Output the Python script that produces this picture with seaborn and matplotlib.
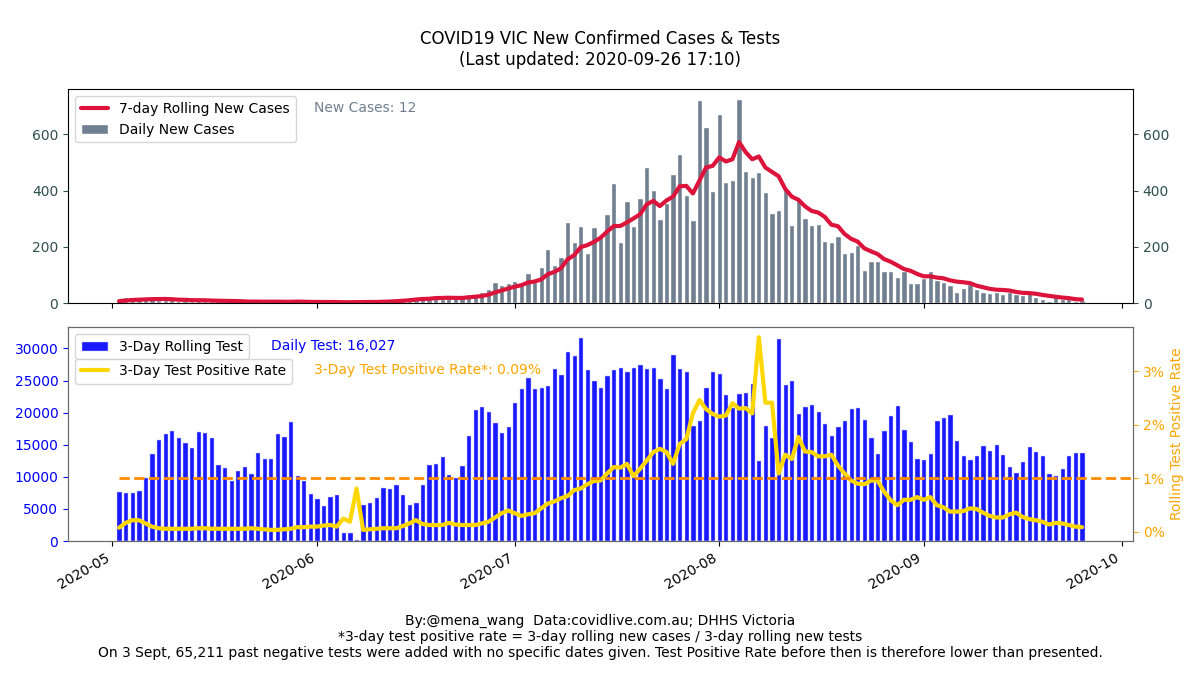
import matplotlib
matplotlib.use("Agg")
import matplotlib.pyplot as plt
import matplotlib.dates as mdates
from matplotlib.ticker import FuncFormatter
import seaborn as sns
import pandas as pd

# ---- data (one value per day, from 2020-05-02) ----
START_DATE = "2020-05-02"

daily_cases = [
    9, 21, 17, 14, 15, 13, 11, 12, 13, 7, 10, 7, 12, 8, 7, 7, 4, 6, 5, 4,
    3, 8, 4, 5, 6, 2, 4, 8, 3, 1, 4, 3, 5, 2, 4, 2, 4, 9, 2, 4,
    8, 8, 12, 14, 21, 21, 18, 13, 25, 16, 19, 17, 20, 33, 30, 41, 49, 75, 64, 73,
    77, 66, 108, 74, 127, 191, 134, 165, 288, 216, 273, 177, 270, 238, 317, 428, 217, 363, 275, 374,
    484, 403, 300, 357, 459, 532, 384, 295, 723, 627, 397, 671, 429, 439, 725, 471, 450, 466, 394, 322,
    331, 410, 278, 372, 303, 279, 282, 222, 216, 240, 179, 182, 208, 116, 148, 149, 113, 113, 94, 114,
    73, 70, 90, 113, 81, 76, 63, 41, 55, 68, 50, 41, 37, 41, 34, 41, 34, 27, 35, 20,
    13, 9, 20, 13, 13, 9, 12,
]

rolling_cases_7d = [
    7.0, 9.0, 11.0, 12.0, 13.0, 14.0, 14.3, 14.7, 13.6, 12.1, 11.6, 10.4, 10.3, 9.9, 9.1, 8.3, 7.9, 7.3, 7.0, 5.9,
    5.1, 5.3, 4.9, 5.0, 5.0, 4.6, 4.6, 5.3, 4.6, 4.1, 4.0, 3.6, 4.0, 3.7, 3.1, 3.0, 3.4, 4.1, 4.0, 3.9,
    4.7, 5.3, 6.7, 8.1, 9.9, 12.6, 14.6, 15.3, 17.7, 18.3, 19.0, 18.4, 18.3, 20.4, 22.9, 25.1, 29.9, 37.9, 44.6, 52.1,
    58.4, 63.6, 73.1, 76.7, 84.1, 102.3, 111.0, 123.6, 155.3, 170.7, 199.1, 206.3, 217.6, 232.4, 254.1, 274.1, 274.3, 287.1, 301.1, 316.0,
    351.1, 363.4, 345.1, 365.1, 378.9, 415.6, 417.0, 390.0, 435.7, 482.4, 488.1, 518.4, 503.7, 511.6, 573.0, 537.0, 511.7, 521.6, 482.0, 466.7,
    451.3, 406.3, 378.7, 367.6, 344.3, 327.9, 322.1, 306.6, 278.9, 273.4, 245.9, 228.6, 218.4, 194.7, 184.1, 174.6, 156.4, 147.0, 134.4, 121.0,
    114.9, 103.7, 95.3, 95.3, 90.7, 88.1, 80.9, 76.3, 74.1, 71.0, 62.0, 56.3, 50.7, 47.6, 46.6, 44.6, 39.7, 36.4, 35.6, 33.1,
    29.1, 25.6, 22.6, 19.6, 17.6, 13.9, 12.7,
]

rolling_tests_3d = [
    7770, 7620, 7620, 7870, 10000, 13780, 15950, 16780, 17350, 16160, 15490, 14710, 17090, 16940, 16270, 11970, 11500, 9580, 11140, 11660,
    10520, 13830, 12950, 12950, 16890, 16370, 18650, 10260, 9580, 7460, 6630, 5650, 6990, 7300, 1450, 1350, 260, 5800, 6010, 6890,
    8440, 8240, 8860, 7360, 5800, 6060, 8860, 12020, 12230, 13210, 10410, 10000, 11810, 16520, 20560, 20980, 20200, 18490, 16990, 17870,
    21600, 23880, 25490, 23880, 23930, 24240, 26880, 26000, 29680, 29010, 31750, 26830, 25120, 23980, 25900, 26730, 27040, 26420, 27140, 27610,
    26990, 27140, 25330, 23880, 29160, 26990, 26420, 18130, 18910, 23930, 26420, 26210, 22840, 20880, 23000, 23260, 24660, 12690, 18130, 16210,
    31650, 24400, 25020, 20000, 21080, 21290, 20200, 18340, 16470, 17980, 18910, 20670, 20820, 18960, 16270, 13780, 17350, 19580, 21140, 17410,
    15640, 13000, 12850, 13780, 18800, 19370, 19740, 15700, 13360, 12740, 13360, 14920, 14250, 15070, 13620, 11760, 10720, 12540, 14870, 14090,
    13470, 10520, 10260, 11340, 13470, 13830, 13930,
]

# 3-day test positive rate, in percent
positive_rate_3d = [
    0.08, 0.17, 0.22, 0.22, 0.16, 0.10, 0.07, 0.06, 0.06, 0.06, 0.06, 0.06, 0.07, 0.07, 0.06, 0.06, 0.06, 0.06, 0.06, 0.06,
    0.07, 0.06, 0.05, 0.04, 0.04, 0.05, 0.06, 0.09, 0.09, 0.10, 0.10, 0.12, 0.13, 0.10, 0.25, 0.19, 0.81, 0.04, 0.05, 0.06,
    0.07, 0.07, 0.07, 0.11, 0.16, 0.22, 0.15, 0.13, 0.13, 0.13, 0.17, 0.14, 0.13, 0.13, 0.13, 0.16, 0.19, 0.27, 0.35, 0.40,
    0.35, 0.30, 0.33, 0.35, 0.44, 0.53, 0.57, 0.63, 0.67, 0.78, 0.81, 0.89, 0.95, 0.96, 1.09, 1.21, 1.20, 1.27, 1.04, 1.18,
    1.33, 1.49, 1.55, 1.49, 1.27, 1.64, 1.73, 2.21, 2.46, 2.29, 2.20, 2.15, 2.17, 2.40, 2.30, 2.31, 2.21, 3.63, 2.41, 2.41,
    1.09, 1.44, 1.36, 1.77, 1.50, 1.49, 1.41, 1.41, 1.44, 1.24, 1.09, 0.96, 0.90, 0.89, 0.96, 0.96, 0.75, 0.59, 0.50, 0.60,
    0.60, 0.65, 0.60, 0.65, 0.50, 0.46, 0.38, 0.38, 0.39, 0.44, 0.43, 0.36, 0.30, 0.27, 0.27, 0.33, 0.36, 0.28, 0.24, 0.22,
    0.19, 0.14, 0.17, 0.16, 0.13, 0.10, 0.09,
]

latest_new_cases = 12
latest_daily_test = 16027
latest_positive_rate = 0.09
rate_reference = 1.0   # dashed 1% line

TITLE = "COVID19 VIC New Confirmed Cases & Tests\n(Last updated: 2020-09-26 17:10)"
FOOTER = ("By:@mena_wang  Data:covidlive.com.au; DHHS Victoria\n"
          "*3-day test positive rate = 3-day rolling new cases / 3-day rolling new tests\n"
          "On 3 Sept, 65,211 past negative tests were added with no specific dates given. "
          "Test Positive Rate before then is therefore lower than presented.")

dates = pd.date_range(START_DATE, periods=len(daily_cases), freq="D")

sns.set_style("ticks")
plt.rcParams["font.family"] = ["DejaVu Sans"]
plt.rcParams.update({
    "font.size": 10,
    "axes.edgecolor": "black",
    "text.color": "black",
    "axes.labelcolor": "black",
    "xtick.color": "black",
    "ytick.color": "black",
})

fig = plt.figure(figsize=(12, 6.75), dpi=100)
ax1 = fig.add_axes([0.0567, 0.551, 0.8875, 0.317])
ax2 = fig.add_axes([0.0567, 0.1985, 0.8875, 0.317], sharex=ax1)

# ---- top panel: daily cases ----
bars1 = ax1.bar(dates, daily_cases, width=0.8, color="slategray", label="Daily New Cases")
sns.lineplot(x=dates, y=rolling_cases_7d, ax=ax1, color="crimson", linewidth=3,
             label="7-day Rolling New Cases")
line1 = ax1.get_lines()[0]
ax1.legend(handles=[line1, bars1], loc="upper left", fontsize=10)
ax1.text(0.231, 0.911, f"New Cases: {latest_new_cases}", transform=ax1.transAxes,
         color="slategray", fontsize=10, va="center")
ax1.set_yticks([0, 200, 400, 600])
ax1.tick_params(axis="y", right=True, labelright=True, colors="darkslategray", labelsize=10)
ax1.tick_params(axis="x", labelbottom=False)
ax1.set_xlabel("")
ax1.set_ylabel("")

# ---- bottom panel: tests and positive rate ----
bars2 = ax2.bar(dates, rolling_tests_3d, width=0.8, color="blue", alpha=0.9, label="3-Day Rolling Test")
ax2.tick_params(axis="y", colors="blue", labelsize=10)
ax2.set_yticks([0, 5000, 10000, 15000, 20000, 25000, 30000])

ax3 = ax2.twinx()
sns.lineplot(x=dates, y=positive_rate_3d, ax=ax3, color="gold", linewidth=3,
             label="3-Day Test Positive Rate")
line3 = ax3.get_lines()[0]
ax3.set_ylim(-0.168, 3.82)
ax3.set_yticks([0, 1, 2, 3])
ax3.yaxis.set_major_formatter(FuncFormatter(lambda v, p: f"{v:.0f}%"))
ax3.tick_params(axis="y", colors="orange", labelsize=10)
ax3.set_ylabel("Rolling Test Positive Rate", color="orange", fontsize=10)
ax3.set_xlabel("")

leg1 = ax3.legend(handles=[bars2], loc="upper left", fontsize=10)
ax3.add_artist(leg1)
ax3.legend(handles=[line3], loc="upper left", bbox_to_anchor=(0.0, 0.885), fontsize=10)

ax3.text(0.1906, 0.911, f"Daily Test: {latest_daily_test:,}", transform=ax3.transAxes,
         color="blue", fontsize=10, va="center")
ax3.text(0.231, 0.799, f"3-Day Test Positive Rate*: {latest_positive_rate:.2f}%",
         transform=ax3.transAxes, color="orange", fontsize=10, va="center")

# x range: bars plus matplotlib's default 5% margin
lo = mdates.date2num(dates[0]) - 0.4
hi = mdates.date2num(dates[-1]) + 0.4
pad = 0.05 * (hi - lo)
ax2.set_xlim(lo - pad, hi + pad)
start_frac = (mdates.date2num(dates[0]) - (lo - pad)) / (hi - lo + 2 * pad)
ax3.axhline(rate_reference, xmin=start_frac, xmax=1, color="darkorange", linestyle="--", linewidth=2)

ax2.xaxis.set_major_locator(mdates.MonthLocator())
ax2.xaxis.set_major_formatter(mdates.DateFormatter("%Y-%m"))
for lab in ax2.get_xticklabels():
    lab.set_rotation(30)
    lab.set_ha("right")
ax2.tick_params(axis="x", labelsize=10, colors="black")

for ax in (ax2, ax3):
    for s in ax.spines.values():
        s.set_color("dimgray")

fig.suptitle(TITLE, fontsize=12, y=0.955, color="black")
fig.text(0.5, 0.022, FOOTER, ha="center", va="bottom", fontsize=10, color="black")

fig.savefig("out.png", dpi=100)
plt.close(fig)
